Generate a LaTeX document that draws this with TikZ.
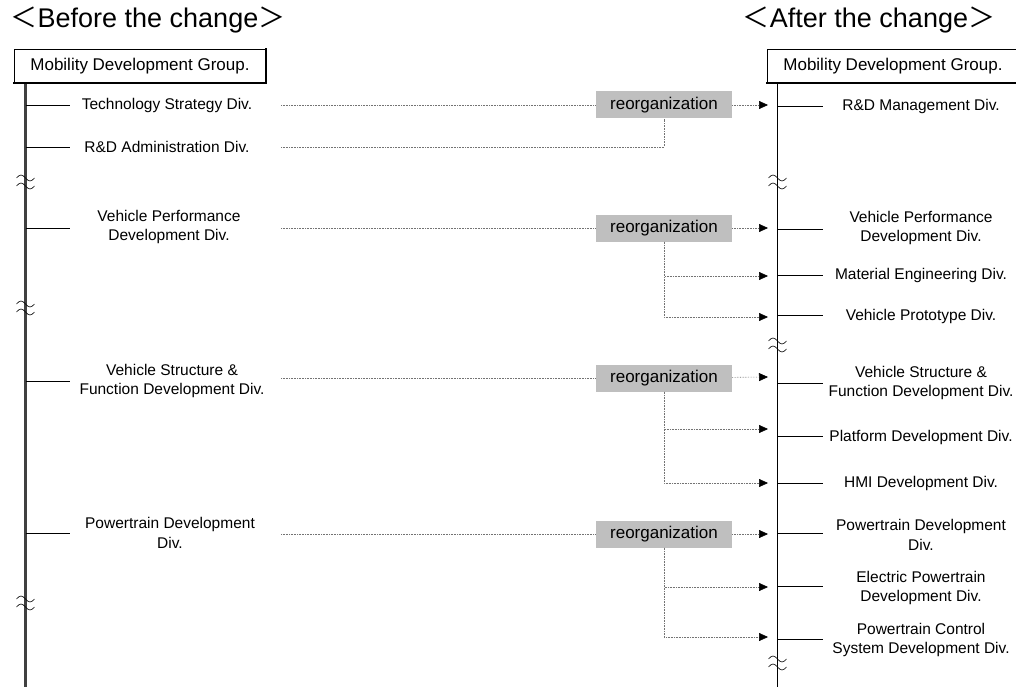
\documentclass[tikz,border=0pt]{standalone}
\usepackage{fontspec}
\setmainfont{Liberation Sans}
\newfontfamily\cjk{Noto Sans CJK JP}
\usetikzlibrary{arrows.meta}

\begin{document}
\begin{tikzpicture}[x=1pt,y=-1pt,
  div/.style={align=center,inner sep=0pt,font=\fontsize{15.5}{19.5}\selectfont},
  grp/.style={draw,line width=0.7pt,fill=white,minimum width=252pt,minimum height=34pt,inner sep=0pt,
    font=\fontsize{17}{20}\selectfont},
  edge/.style={draw,line width=2.2pt,line cap=rect},
  reorg/.style={fill=black!25,minimum width=136pt,minimum height=27pt,inner sep=0pt,font=\fontsize{17}{20}\selectfont},
  flow/.style={draw,densely dotted,black!55,line width=0.6pt},
  arr/.style={-{Triangle[length=9pt,width=8pt,color=black]}},
  brk/.pic={\draw[line width=0.6pt] (-9,-4) sin (-4.5,-7) cos (0,-4) sin (4.5,-1) cos (9,-4)
                                     (-9,4) sin (-4.5,1) cos (0,4) sin (4.5,7) cos (9,4);}
]
\useasboundingbox (0,0) rectangle (1016,687);

\node[font=\fontsize{27}{30}\selectfont] (before) at (148,20) {{\cjk ＜}Before the change{\cjk ＞}};
\node[font=\fontsize{27}{30}\selectfont] (after) at (869,20) {{\cjk ＜}After the change{\cjk ＞}};

\coordinate (top1) at (25.5,83);
\coordinate (bot1) at (25.5,687);
\coordinate (top2) at (777.5,83);
\coordinate (bot2) at (777.5,687);
\path[draw,line width=2.2pt,black!75] (top1) -- (bot1);
\path[draw,line width=0.9pt] (top2) -- (bot2);

\node[grp] (grp1) at (140,66) {Mobility Development Group.};
\node[grp] (grp2) at (893,66) {Mobility Development Group.};
\path[edge] (grp1.south west) -- (grp1.south east) -- (grp1.north east);
\path[edge] (grp2.south west) -- (grp2.south east);

\node[div] (tech) at (167,105) {Technology Strategy Div.};
\node[div] (rda) at (167,147) {R\&D Administration Div.};
\node[div] (vpd) at (169,227) {Vehicle Performance\\Development Div.};
\node[div] (vsf) at (172,381) {Vehicle Structure \&\\Function Development Div.};
\node[div] (ptd) at (170,533) {Powertrain Development\\Div.};

\coordinate (techL) at (25.5,105);  \coordinate (techR) at (70,105);
\coordinate (rdaL) at (25.5,147);   \coordinate (rdaR) at (70,147);
\coordinate (vpdL) at (25.5,228);   \coordinate (vpdR) at (70,228);
\coordinate (vsfL) at (25.5,381);   \coordinate (vsfR) at (70,381);
\coordinate (ptdL) at (25.5,533);   \coordinate (ptdR) at (70,533);

\path[draw,line width=0.8pt] (techL) -- (techR);
\path[draw,line width=0.8pt] (rdaL) -- (rdaR);
\path[draw,line width=0.8pt] (vpdL) -- (vpdR);
\path[draw,line width=0.8pt] (vsfL) -- (vsfR);
\path[draw,line width=0.8pt] (ptdL) -- (ptdR);

\node[div] (rdm) at (921,106) {R\&D Management Div.};
\node[div] (vpd2) at (921,228) {Vehicle Performance\\Development Div.};
\node[div] (med) at (921,275) {Material Engineering Div.};
\node[div] (vpt) at (921,316) {Vehicle Prototype Div.};
\node[div] (vsf2) at (921,383) {Vehicle Structure \&\\Function Development Div.};
\node[div] (pfd) at (921,437) {Platform Development Div.};
\node[div] (hmi) at (921,483) {HMI Development Div.};
\node[div] (ptd2) at (921,535) {Powertrain Development\\Div.};
\node[div] (epd) at (921,588) {Electric Powertrain\\Development Div.};
\node[div] (pcs) at (921,640) {Powertrain Control\\System Development Div.};

\coordinate (rdmL) at (777.5,106);  \coordinate (rdmR) at (823,106);
\coordinate (vpd2L) at (777.5,229); \coordinate (vpd2R) at (823,229);
\coordinate (medL) at (777.5,275);  \coordinate (medR) at (823,275);
\coordinate (vptL) at (777.5,315);  \coordinate (vptR) at (823,315);
\coordinate (vsf2L) at (777.5,383); \coordinate (vsf2R) at (823,383);
\coordinate (pfdL) at (777.5,436);  \coordinate (pfdR) at (823,436);
\coordinate (hmiL) at (777.5,483);  \coordinate (hmiR) at (823,483);
\coordinate (ptd2L) at (777.5,533); \coordinate (ptd2R) at (823,533);
\coordinate (epdL) at (777.5,586);  \coordinate (epdR) at (823,586);
\coordinate (pcsL) at (777.5,639);  \coordinate (pcsR) at (823,639);

\path[draw,line width=0.8pt] (rdmL) -- (rdmR);
\path[draw,line width=0.8pt] (vpd2L) -- (vpd2R);
\path[draw,line width=0.8pt] (medL) -- (medR);
\path[draw,line width=0.8pt] (vptL) -- (vptR);
\path[draw,line width=0.8pt] (vsf2L) -- (vsf2R);
\path[draw,line width=0.8pt] (pfdL) -- (pfdR);
\path[draw,line width=0.8pt] (hmiL) -- (hmiR);
\path[draw,line width=0.8pt] (ptd2L) -- (ptd2R);
\path[draw,line width=0.8pt] (epdL) -- (epdR);
\path[draw,line width=0.8pt] (pcsL) -- (pcsR);

\node[reorg] (re1) at (664,105) {reorganization};
\node[reorg] (re2) at (664,228) {reorganization};
\node[reorg] (re3) at (664,378) {reorganization};
\node[reorg] (re4) at (664,534) {reorganization};

\coordinate (s1) at (281,105);
\coordinate (s2) at (281,147);
\coordinate (s3) at (281,228);
\coordinate (s4) at (281,378);
\coordinate (s5) at (281,534);

\coordinate (e1) at (768,105);
\coordinate (e2) at (768,228);
\coordinate (e3) at (768,276);
\coordinate (e4) at (768,317);
\coordinate (e5) at (768,377);
\coordinate (e6) at (768,429);
\coordinate (e7) at (768,483);
\coordinate (e8) at (768,534);
\coordinate (e9) at (768,587);
\coordinate (e10) at (768,637);

\path[flow] (s1) -- (re1);
\path[flow] (s2) -| (re1);
\path[flow,arr] (re1) -- (e1);

\path[flow] (s3) -- (re2);
\path[flow,arr] (re2) -- (e2);
\path[flow,arr] (re2) |- (e3);
\path[flow,arr] (re2) |- (e4);

\path[flow] (s4) -- (re3);
\path[flow,arr] (re3) -- (e5);
\path[flow,arr] (re3) |- (e6);
\path[flow,arr] (re3) |- (e7);

\path[flow] (s5) -- (re4);
\path[flow,arr] (re4) -- (e8);
\path[flow,arr] (re4) |- (e9);
\path[flow,arr] (re4) |- (e10);

\foreach \y in {182,308,603} \pic at (25.5,\y) {brk};
\foreach \y in {182,345,663} \pic at (777.5,\y) {brk};
\end{tikzpicture}
\end{document}
